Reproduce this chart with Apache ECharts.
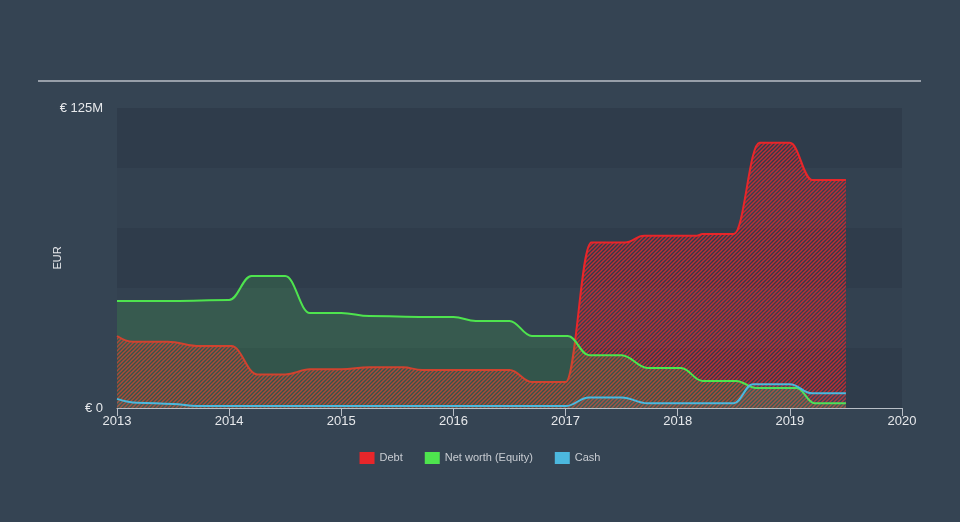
<!DOCTYPE html>
<html><head><meta charset="utf-8">
<script src="https://cdn.jsdelivr.net/npm/echarts@6/dist/echarts.min.js"></script>
<style>html,body{margin:0;padding:0;background:#354453;}#c{width:960px;height:522px;}</style>
</head><body><div id="c"></div>
<script>
// Data (x in fractional years, values in € M)
const debtPoints = [[2013.0,30],[2013.14,27.6],[2013.45,27.6],[2013.74,25.8],[2014.02,25.8],[2014.25,14],[2014.5,14],[2014.72,16.1],[2015.0,16.1],[2015.25,17],[2015.55,17],[2015.72,15.8],[2016.5,15.8],[2016.7,10.8],[2017.0,10.8],[2017.23,69],[2017.53,69],[2017.7,71.8],[2018.17,71.8],[2018.22,72.5],[2018.5,72.5],[2018.73,110.5],[2019.0,110.5],[2019.2,95],[2019.5,95]];
const equityPoints = [[2013.0,44.6],[2013.5,44.6],[2014.0,45],[2014.2,55],[2014.5,55],[2014.72,39.6],[2015.0,39.6],[2015.25,38.3],[2015.75,37.9],[2016.0,37.9],[2016.2,36.3],[2016.5,36.3],[2016.7,30],[2017.02,30],[2017.21,22],[2017.5,22],[2017.73,16.7],[2018.03,16.7],[2018.22,11.3],[2018.52,11.3],[2018.7,8.3],[2019.06,8.3],[2019.22,2],[2019.5,2]];
const cashPoints = [[2013.0,3.8],[2013.18,2.2],[2013.5,1.7],[2013.71,0.8],[2017.0,0.8],[2017.21,4.4],[2017.5,4.4],[2017.73,2],[2018.5,2],[2018.67,9.9],[2019.0,9.9],[2019.2,6.1],[2019.5,6.1]];
const yMax = 125;

function hatch(color){
  const c=document.createElement('canvas'); c.width=4; c.height=4;
  const g=c.getContext('2d');
  g.strokeStyle=color; g.lineWidth=1.5;
  g.beginPath(); g.moveTo(-1,5); g.lineTo(5,-1); g.stroke();
  g.beginPath(); g.moveTo(-1,1); g.lineTo(1,-1); g.stroke();
  g.beginPath(); g.moveTo(3,5); g.lineTo(5,3); g.stroke();
  return c;
}
const RED='#e8262a', GREEN='#4ee44e', BLUE='#4cb8de';
const font = "'Liberation Sans', Arial, sans-serif";
const common = {type:'line',smooth:0.4,smoothMonotone:'x',showSymbol:false,silent:true};
function areaSeries(name,data,fill,z){
  return Object.assign({},common,{name:name,data:data,lineStyle:{width:0,opacity:0},areaStyle:fill,z:z});
}
function lineSeries(name,data,color,z){
  return Object.assign({},common,{name:name,data:data,lineStyle:{color:color,width:2},itemStyle:{color:color},z:z});
}
const chart = echarts.init(document.getElementById('c'), null, {renderer:'canvas'});
chart.setOption({
  backgroundColor:'#354453',
  animation:false,
  textStyle:{fontFamily:font},
  graphic:[{type:'line',shape:{x1:38,y1:81,x2:921,y2:81},style:{stroke:'#b8bec6',lineWidth:1.5}}],
  grid:{left:117,right:58,top:108,bottom:114},
  legend:{top:447,left:'center',itemWidth:15,itemHeight:12,itemGap:22,icon:'rect',
    textStyle:{color:'#c8ccd2',fontSize:11,fontFamily:font},
    data:[{name:'Debt',itemStyle:{color:RED}},{name:'Net worth (Equity)',itemStyle:{color:GREEN}},{name:'Cash',itemStyle:{color:BLUE}}]},
  xAxis:{type:'value',min:2013,max:2020,interval:1,
    axisLine:{lineStyle:{color:'#b8bec6',width:1}},
    axisTick:{show:true,length:8,lineStyle:{color:'#b8bec6'}},
    axisLabel:{color:'#e6e8eb',fontSize:13,margin:7,formatter:v=>String(v)},
    splitLine:{show:false}},
  yAxis:{type:'value',min:0,max:yMax,interval:25,
    name:'EUR',nameLocation:'middle',nameRotate:90,nameGap:54,nameMoveOverlap:false,
    nameTextStyle:{color:'#e6e8eb',fontSize:11},
    axisLine:{show:false},axisTick:{show:false},
    axisLabel:{color:'#e6e8eb',fontSize:13,margin:14,formatter:v=>v===0?'€ 0':(v===yMax?'€ 125M':'')},
    splitLine:{show:false},
    splitArea:{show:true,areaStyle:{color:['#2f3c4b','#334150']}}},
  series:[
    areaSeries('Debt',debtPoints,{color:{image:hatch('rgba(214,42,48,0.85)'),repeat:'repeat'},opacity:1},2),
    lineSeries('Debt',debtPoints,RED,3),
    areaSeries('Net worth (Equity)',equityPoints,{color:'rgba(78,228,78,0.22)'},4),
    lineSeries('Net worth (Equity)',equityPoints,GREEN,5),
    areaSeries('Cash',cashPoints,{color:'rgba(76,184,222,0.12)'},6),
    lineSeries('Cash',cashPoints,BLUE,7)
  ]
});
</script></body></html>
